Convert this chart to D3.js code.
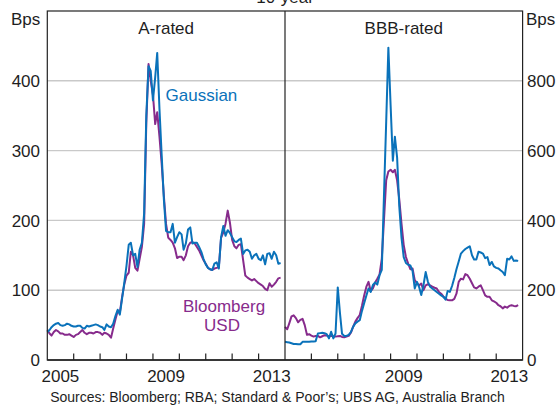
<!DOCTYPE html>
<html>
<head>
<meta charset="utf-8">
<script src="https://cdn.jsdelivr.net/npm/d3@7/dist/d3.min.js"></script>
<style>
    body { margin: 0; background: #ffffff; }
    svg text { font-family: "Liberation Sans", Arial, sans-serif; fill: #1e1e1e; }
</style>
</head>
<body>
<div id="chart"></div>
<script>
"use strict"

// monthly observations, first one is January 2005
let firstMonth = new Date(2005, 0, 1);
let yearTicks = [2005, 2006, 2007, 2008, 2009, 2010, 2011, 2012, 2013, 2014];
let leftYearLabels = [2005, 2009, 2013];
let rightYearLabels = [2009, 2013];
let leftTicks = [0, 100, 200, 300, 400];
let rightTicks = [0, 200, 400, 600, 800];
let panelTitles = ["A-rated", "BBB-rated"];

let aGaussian = [
    40, 43, 47, 50, 52, 53, 50, 49, 50, 52, 51, 49,
    48, 48, 49, 49, 46, 45, 49, 48, 49, 50, 51, 50,
    48, 47, 43, 51, 48, 47, 52, 63, 72, 65, 88, 110,
    135, 165, 168, 150, 152, 133, 158, 168, 210, 350, 421, 414,
    372, 405, 440, 360, 295, 230, 185, 183, 183, 195, 168, 176,
    183, 180, 158, 167, 187, 190, 167, 168, 168, 162, 155, 145,
    137, 132, 130, 129, 138, 140, 131, 176, 192, 178, 186, 182,
    176, 170, 169, 172, 174, 152, 157, 158, 155, 145, 150, 152,
    145, 143, 150, 137, 152, 153, 145, 155, 150, 138, 139
];

let aBloomberg = [
    43, 38, 35, 40, 43, 41, 38, 38, 36, 36, 37, 35,
    33, 36, 37, 40, 43, 39, 37, 39, 39, 38, 40, 40,
    39, 36, 39, 38, 36, 32, 45, 58, 70, 68, 90, 108,
    121, 125, 155, 150, 132, 128, 145, 162, 195, 340, 424, 400,
    380, 338, 355, 320, 282, 235, 195, 175, 172, 168, 160, 146,
    148, 148, 143, 150, 163, 168, 169, 167, 162, 157, 150, 143,
    138, 132, 130, 129, 131, 132, 133, 175, 183, 195, 214, 197,
    172, 163, 160, 165, 166, 143, 121, 118, 116, 114, 116, 113,
    110, 108, 106, 102, 100, 110, 105, 108, 112, 117, 118
];

let bbbGaussian = [
    52, 51, 50, 48, 46, 46, 45, 45, 52, 52, 52, 52,
    53, 53, 54, 76, 77, 78, 77, 74, 62, 81, 62, 76,
    208, 133, 75, 69, 69, 72, 80, 95, 105, 110, 114, 140,
    163, 185, 205, 195, 215, 222, 216, 243, 258, 470, 683, 895,
    730, 571, 640, 580, 440, 350, 295, 278, 273, 271, 255, 205,
    224, 208, 186, 215, 252, 224, 210, 205, 200, 195, 190, 185,
    181, 173, 198, 195, 212, 235, 260, 282, 305, 312, 318, 322,
    326, 300, 288, 288, 310, 308, 305, 292, 295, 272, 281, 268,
    264, 262, 257, 252, 243, 290, 288, 297, 284, 285, 284
];

let bbbBloomberg = [
    95, 88, 105, 125, 128, 120, 108, 115, 118, 100, 72, 74,
    70, 67, 69, 69, 65, 68, 71, 70, 68, 69, 67, 67,
    68, 69, 66, 65, 67, 69, 78, 95, 110, 120, 129, 155,
    185, 210, 224, 197, 205, 222, 233, 245, 290, 400, 515, 540,
    545, 538, 545, 515, 460, 390, 330, 295, 276, 260, 262, 229,
    219, 214, 219, 200, 214, 217, 214, 210, 207, 205, 195, 190,
    182, 176, 172, 171, 171, 175, 190, 224, 233, 231, 246, 243,
    233, 220, 208, 205, 210, 214, 200, 185, 181, 181, 171, 168,
    164, 157, 154, 148, 153, 150, 155, 157, 155, 154, 157
];

let blue = "#0a72ba";
let purple = "#872b8c";

let Chart = function(targetID) {

    let self = {
        svg: null,
        width: 560,
        height: 405,
        top: 11,
        bottom: 360,
        left: 47.3,
        mid: 285,
        right: 522.6
    };

    init();

    function init() {
        self.svg = d3.select(targetID).append("svg")
            .attr("width", self.width)
            .attr("height", self.height);

        let xLeft = d3.scaleTime()
            .domain([new Date(2005, 0, 1), new Date(2014, 0, 1)])
            .range([self.left, self.mid]);
        let xRight = d3.scaleTime()
            .domain([new Date(2005, 0, 1), new Date(2014, 0, 1)])
            .range([self.mid, self.right]);
        let yLeft = d3.scaleLinear()
            .domain([0, 500])
            .range([self.bottom, self.top]);
        let yRight = d3.scaleLinear()
            .domain([0, 1000])
            .range([self.bottom, self.top]);

        drawGrid(yLeft);
        drawPanel(xLeft, yLeft, aBloomberg, aGaussian);
        drawPanel(xRight, yRight, bbbBloomberg, bbbGaussian);
        drawFrame();
        drawXAxis(xLeft, leftYearLabels);
        drawXAxis(xRight, rightYearLabels);
        drawYLabels(yLeft, yRight);
        drawText();
    }

    function drawGrid(y) {
        self.svg.selectAll(".grid")
            .data(leftTicks.filter(d => d > 0))
            .enter().append("line")
            .attr("class", "grid")
            .attr("x1", self.left)
            .attr("x2", self.right)
            .attr("y1", d => y(d))
            .attr("y2", d => y(d))
            .style("stroke", "#c9c9c9")
            .style("stroke-width", "1.4px");
    }

    function monthDate(i) {
        return d3.timeMonth.offset(firstMonth, i);
    }

    function drawPanel(x, y, purpleData, blueData) {
        let line = d3.line()
            .x((d, i) => x(monthDate(i)))
            .y(d => y(d));

        self.svg.append("path")
            .attr("d", line(purpleData))
            .style("fill", "none")
            .style("stroke", purple)
            .style("stroke-width", "2px")
            .style("stroke-linejoin", "round");

        self.svg.append("path")
            .attr("d", line(blueData))
            .style("fill", "none")
            .style("stroke", blue)
            .style("stroke-width", "2px")
            .style("stroke-linejoin", "round");
    }

    function drawFrame() {
        // box and panel divider
        self.svg.append("rect")
            .attr("x", self.left)
            .attr("y", self.top)
            .attr("width", self.right - self.left)
            .attr("height", self.bottom - self.top)
            .style("fill", "none")
            .style("stroke", "#222")
            .style("stroke-width", "1.2px");

        self.svg.append("line")
            .attr("x1", self.mid)
            .attr("x2", self.mid)
            .attr("y1", self.top)
            .attr("y2", self.bottom)
            .style("stroke", "#222")
            .style("stroke-width", "1.2px");

        self.svg.append("line")
            .attr("x1", self.left)
            .attr("x2", self.right)
            .attr("y1", self.bottom)
            .attr("y2", self.bottom)
            .style("stroke", "#222")
            .style("stroke-width", "1.6px");
    }

    /* year ticks pointing inwards, labels centred on the year */
    function drawXAxis(x, labels) {
        let inner = yearTicks.slice(1, -1);

        self.svg.append("g").selectAll("line")
            .data(inner)
            .enter().append("line")
            .attr("x1", d => x(new Date(d, 0, 1)))
            .attr("x2", d => x(new Date(d, 0, 1)))
            .attr("y1", self.bottom)
            .attr("y2", self.bottom - 6.5)
            .style("stroke", "#222")
            .style("stroke-width", "1.2px");

        self.svg.append("g").selectAll("text")
            .data(labels)
            .enter().append("text")
            .attr("x", d => x(new Date(d, 6, 1)))
            .attr("y", 381.5)
            .attr("text-anchor", "middle")
            .style("font-size", "17px")
            .text(d => d);
    }

    function drawYLabels(yLeft, yRight) {
        self.svg.append("g").selectAll("text")
            .data(leftTicks)
            .enter().append("text")
            .attr("x", 40)
            .attr("y", d => yLeft(d))
            .attr("dy", "0.36em")
            .attr("text-anchor", "end")
            .style("font-size", "17px")
            .text(d => d);

        self.svg.append("g").selectAll("text")
            .data(rightTicks)
            .enter().append("text")
            .attr("x", 527)
            .attr("y", d => yRight(d))
            .attr("dy", "0.36em")
            .attr("text-anchor", "start")
            .style("font-size", "17px")
            .text(d => d);
    }

    function drawText() {
        let labels = [
            { text: "10-year", x: 285, y: 3, anchor: "middle", size: 17, color: "#1e1e1e" },
            { text: "Bps", x: 11, y: 25, anchor: "start", size: 17, color: "#1e1e1e" },
            { text: "Bps", x: 526, y: 25, anchor: "start", size: 17, color: "#1e1e1e" },
            { text: panelTitles[0], x: (self.left + self.mid) / 2, y: 34, anchor: "middle", size: 17, color: "#1e1e1e" },
            { text: panelTitles[1], x: (self.mid + self.right) / 2, y: 34, anchor: "middle", size: 17, color: "#1e1e1e" },
            { text: "Gaussian", x: 165.5, y: 101, anchor: "start", size: 17, color: blue },
            { text: "Bloomberg", x: 224, y: 311.5, anchor: "middle", size: 17, color: purple },
            { text: "USD", x: 222, y: 330.5, anchor: "middle", size: 17, color: purple },
            { text: "Sources: Bloomberg; RBA; Standard & Poor\u2019s; UBS AG, Australia Branch", x: 277.5, y: 402, anchor: "middle", size: 14, color: "#1e1e1e" }
        ];

        self.svg.append("g").selectAll("text")
            .data(labels)
            .enter().append("text")
            .attr("x", d => d.x)
            .attr("y", d => d.y)
            .attr("text-anchor", d => d.anchor)
            .style("font-size", d => d.size + "px")
            .style("fill", d => d.color)
            .text(d => d.text);
    }

    return {};
};

Chart("#chart");
</script>
</body>
</html>
